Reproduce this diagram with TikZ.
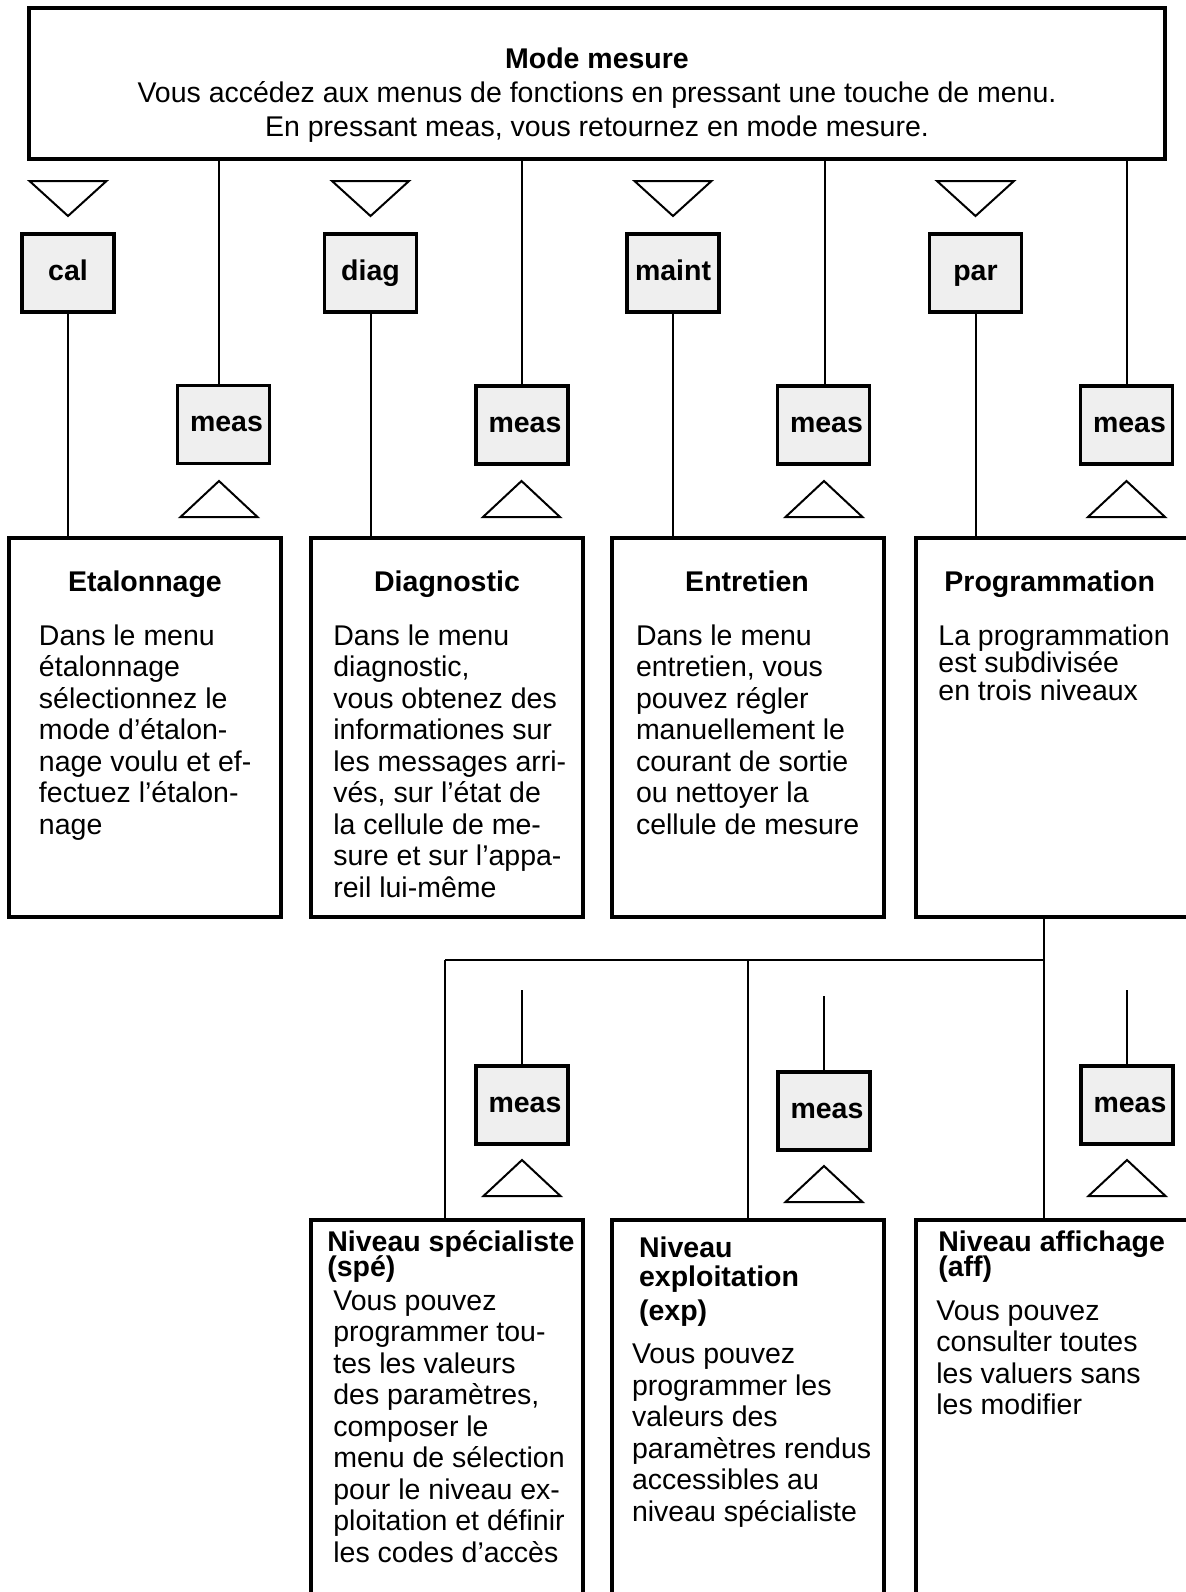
\documentclass[tikz,border=0pt]{standalone}
\usepackage{fontspec}
\setmainfont{Liberation Sans}
\definecolor{keyfill}{RGB}{239,239,239}
\newcommand{\myfs}{\fontsize{14.25pt}{15.75pt}\selectfont}
\begin{document}
\begin{tikzpicture}[x=0.5pt,y=-0.5pt,
  frame/.style={draw,line width=1.6pt,inner sep=0pt},
  keybox/.style={frame,fill=keyfill,minimum width=46pt,minimum height=39pt,font=\myfs\bfseries,text height=10.3pt,text depth=3pt},
  section/.style={frame,minimum width=136pt,minimum height=189.5pt},
  openbox/.style={frame,minimum width=136pt,minimum height=213pt},
  conn/.style={line width=1pt},
  tri/.style={line width=1pt,line join=miter},
  txt/.style={inner sep=0pt,font=\myfs,align=left},
  ttl/.style={inner sep=0pt,font=\myfs\bfseries,align=left},
]
\useasboundingbox (0,0) rectangle (1186,1592);
\begin{scope}
\clip (0,0) rectangle (1186,1592);
% top box
\node[frame,minimum width=568pt,minimum height=75.5pt] (top) at (597,83.5) {};
\node[ttl,anchor=base] (t1) at (597,68) {Mode mesure};
\node[txt,anchor=base] (t2) at (597,102.5) {Vous accédez aux menus de fonctions en pressant une touche de menu.};
\node[txt,anchor=base] (t3) at (597,136) {En pressant meas, vous retournez en mode mesure.};
% key boxes
\node[keybox] (cal) at (68,273) {cal};
\node[keybox] (diag) at (370.5,273) {diag};
\node[keybox] (maint) at (673,273) {maint};
\node[keybox] (par) at (975.5,273) {par};
\foreach \x in {68,370.5,673,975.5}
  \draw[tri] (\x-38.5,181) -- (\x+38.5,181) -- (\x,216) -- cycle;
% meas boxes
\node[keybox] (m1) at (223.5,424.5) {\kern3pt meas};
\node[keybox] (m2) at (522,425) {\kern3pt meas};
\node[keybox] (m3) at (823.5,425) {\kern3pt meas};
\node[keybox] (m4) at (1126.5,425) {\kern3pt meas};
\coordinate (m1top) at (219,385.5);
\foreach \x in {219,521.5,824,1126.5}
  \draw[tri] (\x,481) -- (\x+38.5,517) -- (\x-38.5,517) -- cycle;
% section boxes
\node[section] (etal) at (145,727.5) {};
\node[section] (diagb) at (447,727.5) {};
\node[section] (entr) at (748,727.5) {};
\node[section] (prog) at (1052,727.5) {};
% connectors
\draw[conn] (cal.south) -- (cal.south |- etal.north);
\draw[conn] (diag.south) -- (diag.south |- diagb.north);
\draw[conn] (maint.south) -- (maint.south |- entr.north);
\draw[conn] (par.south) -- (par.south |- prog.north);
\draw[conn] (m1top |- top.south) -- (m1top);
\draw[conn] (m2.north |- top.south) -- (m2.north);
\draw[conn] ([xshift=0.5pt]m3.north |- top.south) -- ([xshift=0.5pt]m3.north);
\draw[conn] (m4.north |- top.south) -- (m4.north);
% section texts (anchor = baseline of last line)
\node[ttl,anchor=base] (etalt) at (145,591) {Etalonnage};
\node[ttl,anchor=base] (diagt) at (447,591) {Diagnostic};
\node[ttl,anchor=base] (entrt) at (747,591) {Entretien};
\node[ttl,anchor=base west] (progt) at (944,591) {Programmation};
\node[txt,anchor=base west] (etalx) at (38.6,834) {Dans le menu\\étalonnage\\sélectionnez le\\mode d’étalon-\\nage voulu et ef-\\fectuez l’étalon-\\nage};
\node[txt,anchor=base west] (diagx) at (333,897) {Dans le menu\\diagnostic,\\vous obtenez des\\informationes sur\\les messages arri-\\vés, sur l’état de\\la cellule de me-\\sure et sur l’appa-\\reil lui-même};
\node[txt,anchor=base west] (entrx) at (635.6,834) {Dans le menu\\entretien, vous\\pouvez régler\\manuellement le\\courant de sortie\\ou nettoyer la\\cellule de mesure};
\node[txt,anchor=base west,font=\fontsize{14.25pt}{13.95pt}\selectfont] (progx) at (938,700.8) {La programmation\\est subdivisée\\en trois niveaux};
% lower level
\coordinate (j) at (1044,960);
\coordinate (jl) at (445,960);
\coordinate (jm) at (748,960);
\node[openbox] (bn1) at (447,1433) {};
\node[openbox] (bn2) at (748,1433) {};
\node[openbox] (bn3) at (1052,1433) {};
\draw[conn] (j |- prog.south) -- (j);
\draw[conn] (jl) -- (j);
\draw[conn] (j) -- (j |- bn3.north);
\draw[conn] (jl) -- (jl |- bn1.north);
\draw[conn] (jm) -- (jm |- bn2.north);
\coordinate (bt1) at (522,990);
\coordinate (bt2) at (824,996);
\coordinate (bt3) at (1127,990);
\node[keybox] (bm1) at (522,1105) {\kern3pt meas};
\node[keybox] (bm2) at (824,1111) {\kern3pt meas};
\node[keybox] (bm3) at (1127,1105) {\kern3pt meas};
\draw[conn] (bt1) -- (bm1.north);
\draw[conn] (bt2) -- (bm2.north);
\draw[conn] (bt3) -- (bm3.north);
\draw[tri] (522,1160) -- (560.5,1196) -- (483.5,1196) -- cycle;
\draw[tri] (824,1166) -- (862.5,1202) -- (785.5,1202) -- cycle;
\draw[tri] (1127,1160) -- (1165.5,1196) -- (1088.5,1196) -- cycle;
% lower texts
\node[ttl,anchor=base west] (bn1t) at (327,1251) {Niveau spécialiste};
\node[ttl,anchor=base west] (bn1u) at (327,1276) {(spé)};
\node[txt,anchor=base west] (bn1x) at (333,1562) {Vous pouvez\\programmer tou-\\tes les valeurs\\des paramètres,\\composer le\\menu de sélection\\pour le niveau ex-\\ploitation et définir\\les codes d’accès};
\node[ttl,anchor=base west] (bn2t) at (638.7,1257) {Niveau};
\node[ttl,anchor=base west] (bn2u) at (638.7,1286.5) {exploitation};
\node[ttl,anchor=base west] (bn2v) at (638.7,1320) {(exp)};
\node[txt,anchor=base west] (bn2x) at (631.6,1521.2) {Vous pouvez\\programmer les\\valeurs des\\paramètres rendus\\accessibles au\\niveau spécialiste};
\node[ttl,anchor=base west] (bn3t) at (938,1251) {Niveau affichage};
\node[ttl,anchor=base west] (bn3u) at (938,1276) {(aff)};
\node[txt,anchor=base west] (bn3x) at (936,1414.5) {Vous pouvez\\consulter toutes\\les valuers sans\\les modifier};
\end{scope}
\end{tikzpicture}
\end{document}
